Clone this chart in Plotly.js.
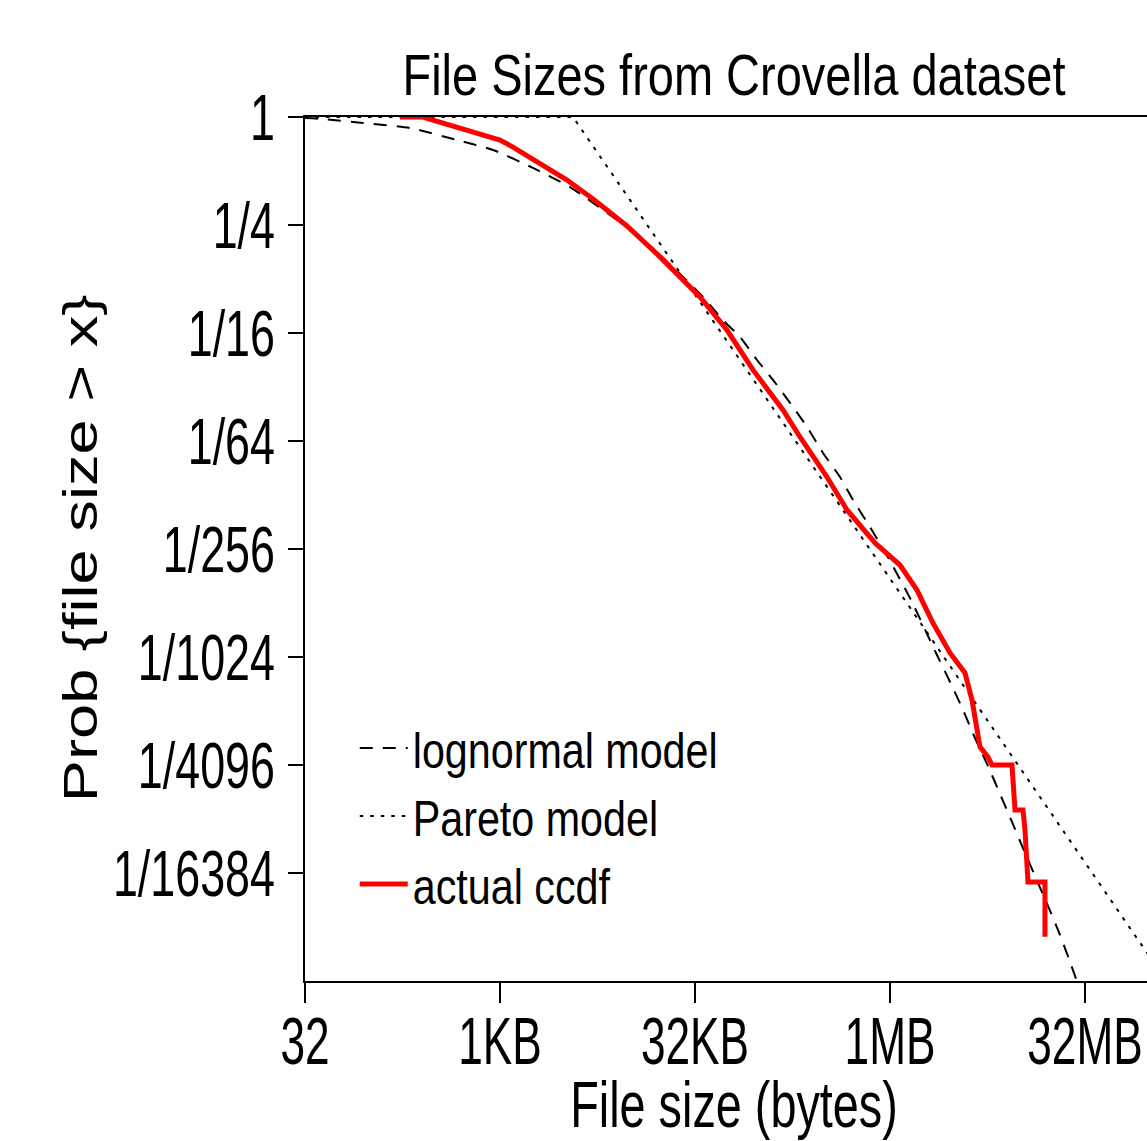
<!DOCTYPE html>
<html>
<head>
<meta charset="utf-8">
<script src="https://cdn.plot.ly/plotly-3.0.1.min.js"></script>
<style>
html,body{margin:0;padding:0;overflow:hidden;background:#fff;}
#chart{width:1165px;height:1141px;}
</style>
</head>
<body>
<div id="chart"></div>
<script>
// ---- data ----
var chartTitle = "File Sizes from Crovella dataset";
var xTitle = "File size (bytes)";
var yTitle = "Prob {file size > x}";

var xTickVals = [32, 1024, 32768, 1048576, 33554432];
var xTickText = ["32", "1KB", "32KB", "1MB", "32MB"];
var yTickVals = [1, 0.25, 0.0625, 0.015625, 0.00390625, 0.0009765625, 0.000244140625, 0.00006103515625];
var yTickText = ["1", "1/4", "1/16", "1/64", "1/256", "1/1024", "1/4096", "1/16384"];

// lognormal model (dashed)
var lognormX = [32, 44.1, 89.7, 206.8, 476.7, 904.6, 1840, 3553, 8798, 13960, 26470, 37790, 53900, 72880, 98640,
  131072, 187000, 239900, 318800, 431300, 543100, 734700, 1048576, 1550000, 2334000, 3157000, 3838000,
  4749000, 5985000, 7411000, 9169000, 11150000, 13800000, 17380000, 21510000, 25700000, 30700000];
var lognormP = [0.987, 0.975, 0.926, 0.868, 0.744, 0.655, 0.520, 0.407, 0.2565, 0.198, 0.1285, 0.0992, 0.0738, 0.0594, 0.0442,
  0.0342, 0.0242, 0.0187, 0.0134, 0.00984, 0.00733, 0.00518, 0.00335, 0.00198, 0.001055, 0.000673, 0.000495,
  0.000345, 0.000241, 0.0001682, 0.0001175, 0.0000841, 0.0000587, 0.0000400, 0.0000276, 0.0000195, 0.0000136];

// Pareto model (dotted)
var paretoX = [32, 3748, 488200, 134217728];
var paretoP = [1, 1, 0.005976, 0.00001624];

// actual ccdf (red)
var ccdfX = [173, 261, 311, 444, 717, 1024, 1290, 2085, 3369, 5349, 9782, 17597, 35816, 57900, 91830,
  156500, 211800, 342400, 488200, 803200, 1252000, 1694000, 2252000, 3045000, 3976000, 4505000, 5192000,
  5985000, 6426000, 9169000, 9672000, 11150000, 11550000, 12180000, 16480000, 16480000];
var ccdfP = [1, 1, 0.962, 0.891, 0.815, 0.744, 0.680, 0.554, 0.445, 0.349, 0.247, 0.166, 0.0992, 0.0649, 0.0389,
  0.02326, 0.01645, 0.00984, 0.00645, 0.00422, 0.00318, 0.002305, 0.00151, 0.001028, 0.000796, 0.000562, 0.000308,
  0.00027, 0.000244, 0.000244, 0.000137, 0.000137, 0.000106, 0.0000544, 0.0000544, 0.0000269];

var seriesNames = ["lognormal model", "Pareto model", "actual ccdf"];

// ---- chart ----
var sans = "Liberation Sans, Arial, Helvetica, sans-serif";

var traces = [
  {x: lognormX, y: lognormP, type: "scatter", mode: "lines", name: seriesNames[0],
   line: {color: "#000", width: 2, dash: "13px,10px", shape: "spline", smoothing: 0.6}},
  {x: paretoX, y: paretoP, type: "scatter", mode: "lines", name: seriesNames[1],
   line: {color: "#000", width: 2, dash: "3.5px,7px"}},
  {x: ccdfX, y: ccdfP, type: "scatter", mode: "lines", name: seriesNames[2],
   line: {color: "#ff0000", width: 5}}
];

var layout = {
  width: 1165, height: 1141,
  margin: {l: 305, r: 2, t: 117, b: 160},
  paper_bgcolor: "#fff", plot_bgcolor: "#fff",
  showlegend: true,
  title: {text: chartTitle, font: {family: sans, size: 58, color: "#000"},
          xref: "paper", x: 0.5, xanchor: "center", yref: "container", y: 1 - 75/1141, yanchor: "middle"},
  xaxis: {
    type: "log", range: [Math.log10(32), Math.log10(134217728)],
    tickvals: xTickVals, ticktext: xTickText,
    ticks: "outside", ticklen: 20, tickwidth: 2, tickcolor: "#000",
    ticklabelstandoff: -19, ticklabeloverflow: "allow",
    showline: true, linewidth: 2, linecolor: "#000", mirror: true,
    showgrid: false, zeroline: false,
    tickfont: {family: sans, size: 67, color: "#000"},
    title: {text: xTitle, font: {family: sans, size: 65, color: "#000"}, standoff: 8}
  },
  yaxis: {
    type: "log", range: [Math.log10(Math.pow(2, -16)), 0],
    tickvals: yTickVals, ticktext: yTickText,
    ticks: "outside", ticklen: 15, tickwidth: 2, tickcolor: "#000",
    showline: true, linewidth: 2, linecolor: "#000",
    showgrid: false, zeroline: false,
    tickfont: {family: sans, size: 65, color: "#000"}
  },
  annotations: [{
    text: yTitle, xref: "paper", yref: "paper", x: -0.2622, y: 0.501,
    xanchor: "center", yanchor: "middle", textangle: -90, showarrow: false,
    font: {family: sans, size: 49, color: "#000"}
  }],
  legend: {
    x: 0.058, y: 0.3148, xanchor: "left", yanchor: "top",
    bgcolor: "rgba(0,0,0,0)", borderwidth: 0,
    font: {family: sans, size: 50, color: "#000"},
    itemwidth: 48, tracegroupgap: 0
  }
};

// horizontal stretch of text glyphs around their anchor point
function stretch(sel, s) {
  document.querySelectorAll(sel).forEach(function (t) {
    var x = parseFloat(t.getAttribute("x")) || 0;
    var tr = t.getAttribute("transform") || "";
    t.setAttribute("transform", tr + " translate(" + x + ",0) scale(" + s + ",1) translate(" + (-x) + ",0)");
  });
}

Plotly.newPlot("chart", traces, layout, {displayModeBar: false, staticPlot: true}).then(function () {
  stretch(".xtick text", 0.66);
  stretch(".ytick text", 0.69);
  stretch(".gtitle", 0.81);
  stretch(".xtitle", 0.72);
  stretch(".legendtext", 0.825);
  stretch(".annotation-text", 1.29);
});
</script>
</body>
</html>
